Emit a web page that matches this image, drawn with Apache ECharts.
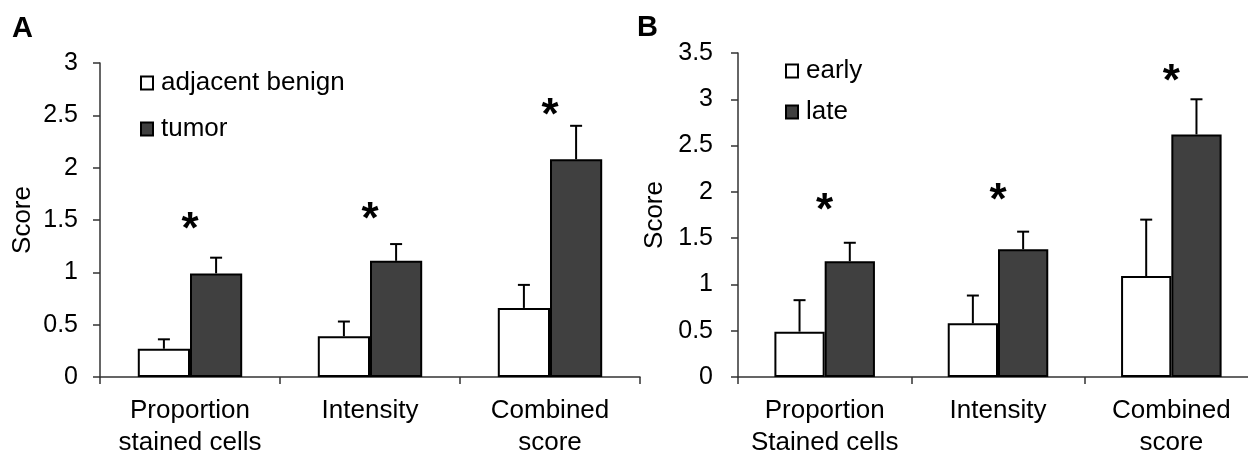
<!DOCTYPE html>
<html>
<head>
<meta charset="utf-8">
<script src="https://cdn.jsdelivr.net/npm/echarts@6/dist/echarts.min.js"></script>
<style>
  html, body { margin: 0; padding: 0; background: #ffffff; }
  #chart { width: 1248px; height: 450px; }
</style>
</head>
<body>
<div id="chart"></div>
<script>
// ---- Data ----
const categoriesA = ['Proportion\nstained cells', 'Intensity', 'Combined\nscore'];
const benignMean = [0.27, 0.39, 0.66];
const benignErr = [0.09, 0.14, 0.22];
const tumorMean = [0.99, 1.11, 2.08];
const tumorErr = [0.15, 0.16, 0.32];
const starsA = [1.51, 1.61, 2.60];

const categoriesB = ['Proportion\nStained cells', 'Intensity', 'Combined\nscore'];
const earlyMean = [0.49, 0.58, 1.09];
const earlyErr = [0.34, 0.30, 0.61];
const lateMean = [1.25, 1.38, 2.62];
const lateErr = [0.20, 0.19, 0.38];
const starsB = [1.91, 2.02, 3.31];

const yTicksA = { min: 0, max: 3, interval: 0.5 };
const yTicksB = { min: 0, max: 3.5, interval: 0.5 };

// ---- Styles ----
const FONT = 'Liberation Sans, Arial, sans-serif';
const DARK = '#404040';
const AXIS = '#333333';
const BAR_FRAC = 0.29;

function errorRender(side) {
  return function (params, api) {
    const i = api.value(0), m = api.value(1), s = api.value(2);
    const band = api.size([1, 0])[0];
    const off = band * BAR_FRAC * side / 2;
    const p0 = api.coord([i, m]);
    const p1 = api.coord([i, m + s]);
    const x = p0[0] + off;
    const st = { stroke: '#000', lineWidth: 2 };
    return {
      type: 'group',
      children: [
        { type: 'line', shape: { x1: x, y1: p0[1], x2: x, y2: p1[1] }, style: st },
        { type: 'line', shape: { x1: x - 6, y1: p1[1], x2: x + 6, y2: p1[1] }, style: st }
      ]
    };
  };
}

function starRender(params, api) {
  const p = api.coord([api.value(0), api.value(1)]);
  return {
    type: 'text',
    x: p[0],
    y: p[1] + 12,
    style: { text: '*', font: 'bold 44px ' + FONT, fill: '#000', align: 'center', verticalAlign: 'middle' }
  };
}

function xAxis(cats, gridIndex) {
  return {
    type: 'category', gridIndex: gridIndex, data: cats,
    axisLine: { lineStyle: { color: AXIS, width: 1.5 } },
    axisTick: { show: true, length: 7, alignWithLabel: false, lineStyle: { color: AXIS, width: 1.5 } },
    axisLabel: { interval: 0, color: '#000', fontFamily: FONT, fontSize: 26, lineHeight: 32, margin: 18 },
    splitLine: { show: false }
  };
}

function yAxis(t, gridIndex, gap, margin) {
  return {
    type: 'value', gridIndex: gridIndex, min: t.min, max: t.max, interval: t.interval,
    name: 'Score', nameLocation: 'middle', nameGap: gap,
    nameTextStyle: { color: '#000', fontFamily: FONT, fontSize: 26 },
    axisLine: { show: true, lineStyle: { color: AXIS, width: 1.5 } },
    axisTick: { show: true, length: 7, lineStyle: { color: AXIS, width: 1.5 } },
    axisLabel: { color: '#000', fontFamily: FONT, fontSize: 25, margin: margin },
    splitLine: { show: false }
  };
}

function bar(name, data, color, xi, yi) {
  return {
    type: 'bar', name: name, data: data, xAxisIndex: xi, yAxisIndex: yi,
    barWidth: (BAR_FRAC * 100) + '%', barGap: '0%',
    itemStyle: { color: color, borderColor: '#000', borderWidth: 2 },
    emphasis: { disabled: true }, z: 2
  };
}

function err(means, errs, side, xi, yi) {
  return {
    type: 'custom', xAxisIndex: xi, yAxisIndex: yi, z: 3, clip: false,
    renderItem: errorRender(side),
    data: means.map((m, i) => [i, m, errs[i]]),
    encode: { x: 0, y: 1 }, silent: true
  };
}

function stars(vals, xi, yi) {
  return {
    type: 'custom', xAxisIndex: xi, yAxisIndex: yi, z: 4, clip: false,
    renderItem: starRender,
    data: vals.map((v, i) => [i, v]),
    encode: { x: 0, y: 1 }, silent: true
  };
}

const chart = echarts.init(document.getElementById('chart'), null, { renderer: 'canvas' });
chart.setOption({
  animation: false,
  backgroundColor: '#ffffff',
  graphic: [
    { type: 'text', left: 12, top: 14, style: { text: 'A', font: 'bold 29px ' + FONT, fill: '#000' } },
    { type: 'text', left: 637, top: 13, style: { text: 'B', font: 'bold 29px ' + FONT, fill: '#000' } }
  ],
  legend: [
    {
      data: ['adjacent benign', 'tumor'], orient: 'vertical', left: 140, top: 69, padding: 0,
      itemWidth: 12, itemHeight: 13, itemGap: 18, icon: 'rect',
      textStyle: { color: '#000', fontFamily: FONT, fontSize: 26, lineHeight: 28, padding: [0, 0, 0, 3] }
    },
    {
      data: ['early', 'late'], orient: 'vertical', left: 785, top: 57, padding: 0,
      itemWidth: 12, itemHeight: 13, itemGap: 13, icon: 'rect',
      textStyle: { color: '#000', fontFamily: FONT, fontSize: 26, lineHeight: 28, padding: [0, 0, 0, 3] }
    }
  ],
  grid: [
    { left: 100, top: 63, width: 540, height: 314, containLabel: false, outerBoundsMode: 'none' },
    { left: 738, top: 53, width: 520, height: 324, containLabel: false, outerBoundsMode: 'none' }
  ],
  xAxis: [xAxis(categoriesA, 0), xAxis(categoriesB, 1)],
  yAxis: [yAxis(yTicksA, 0, 64, 22), yAxis(yTicksB, 1, 70, 25)],
  series: [
    bar('adjacent benign', benignMean, '#ffffff', 0, 0),
    bar('tumor', tumorMean, DARK, 0, 0),
    err(benignMean, benignErr, -1, 0, 0),
    err(tumorMean, tumorErr, 1, 0, 0),
    stars(starsA, 0, 0),
    bar('early', earlyMean, '#ffffff', 1, 1),
    bar('late', lateMean, DARK, 1, 1),
    err(earlyMean, earlyErr, -1, 1, 1),
    err(lateMean, lateErr, 1, 1, 1),
    stars(starsB, 1, 1)
  ]
});
</script>
</body>
</html>
